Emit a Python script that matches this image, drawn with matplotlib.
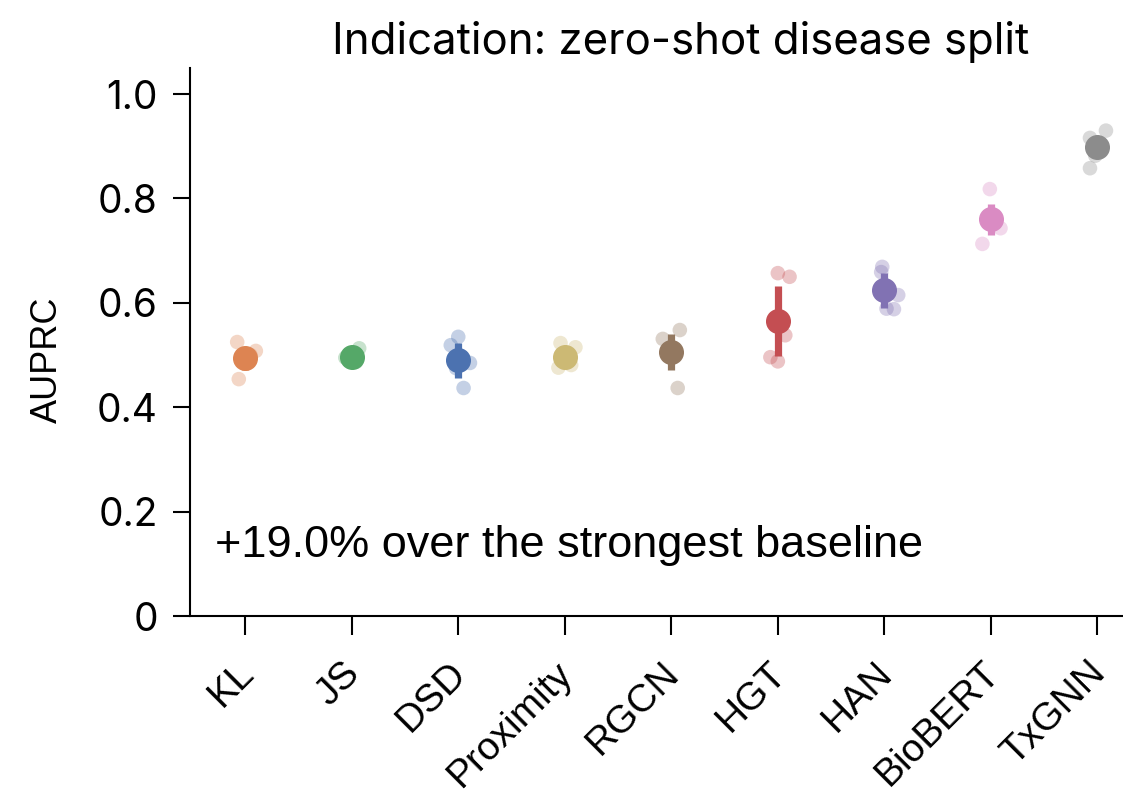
import matplotlib
matplotlib.use("Agg")
import matplotlib.pyplot as plt
import numpy as np

methods = ['KL', 'JS', 'DSD', 'Proximity', 'RGCN', 'HGT', 'HAN', 'BioBERT', 'TxGNN']
colors = ['#dd8452', '#55a868', '#4c72b0', '#ccb974', '#937860',
          '#c44e52', '#8172b3', '#da8bc3', '#8c8c8c']

# AUPRC over five seeds per method
seed_scores = {
    'KL':        [0.525, 0.508, 0.454, 0.490, 0.500],
    'JS':        [0.513, 0.498, 0.492, 0.495, 0.487],
    'DSD':       [0.535, 0.519, 0.485, 0.437, 0.475],
    'Proximity': [0.523, 0.515, 0.481, 0.485, 0.476],
    'RGCN':      [0.548, 0.531, 0.437, 0.510, 0.505],
    'HGT':       [0.657, 0.650, 0.538, 0.496, 0.488],
    'HAN':       [0.669, 0.659, 0.615, 0.588, 0.589],
    'BioBERT':   [0.818, 0.713, 0.743, 0.770, 0.756],
    'TxGNN':     [0.916, 0.930, 0.858, 0.902, 0.882],
}
# horizontal spread of the seed points around each category
seed_jitter = {
    'KL':        [-0.075, 0.10, -0.06, 0.00, 0.05],
    'JS':        [0.07, -0.03, 0.01, -0.06, 0.04],
    'DSD':       [0.00, -0.07, 0.11, 0.05, -0.02],
    'Proximity': [-0.04, 0.10, 0.06, 0.00, -0.06],
    'RGCN':      [0.08, -0.08, 0.06, 0.00, 0.03],
    'HGT':       [0.00, 0.11, 0.07, -0.07, 0.00],
    'HAN':       [-0.02, -0.03, 0.13, 0.09, 0.02],
    'BioBERT':   [-0.01, -0.08, 0.09, 0.00, 0.03],
    'TxGNN':     [-0.07, 0.08, -0.07, 0.02, -0.02],
}
means = [0.494, 0.496, 0.490, 0.496, 0.506, 0.566, 0.624, 0.760, 0.899]
errs = [0.022, 0.008, 0.033, 0.010, 0.035, 0.067, 0.033, 0.030, 0.015]
yticks = [0, 0.2, 0.4, 0.6, 0.8, 1.0]
ytick_labels = ['0', '0.2', '0.4', '0.6', '0.8', '1.0']

fig = plt.figure(figsize=(11.23, 7.95), dpi=100)
ax = fig.add_axes([0.169, 0.225, 0.831, 0.6895])

x = np.arange(len(methods))
for i, m in enumerate(methods):
    ax.scatter(i + np.array(seed_jitter[m]), seed_scores[m], s=110,
               color=colors[i], alpha=0.33, edgecolors='none', zorder=2)
    ax.errorbar(i, means[i], yerr=errs[i], fmt='o', color=colors[i],
                ms=17, elinewidth=5.2, capsize=0, zorder=3)

ax.set_xlim(-0.52, 8.24)
ax.set_ylim(0, 1.05)
ax.set_yticks(yticks)
ax.set_yticklabels(ytick_labels, fontfamily='Inter', fontsize=28)
ax.set_xticks(x)
# label tips sit just right of each tick
ax.set_xticklabels(methods, rotation=45, ha='right', va='center_baseline',
                   rotation_mode='anchor', fontfamily='Liberation Sans',
                   fontsize=28)

ax.set_ylabel('AUPRC', fontfamily='Liberation Sans', fontsize=26)
ax.yaxis.set_label_coords(-0.134, 0.467)

ax.spines['top'].set_visible(False)
ax.spines['right'].set_visible(False)
for s in ['left', 'bottom']:
    ax.spines[s].set_linewidth(1.5)
ax.tick_params(axis='x', length=14, width=1.5, pad=21)
ax.tick_params(axis='y', length=12, width=1.5, pad=11)

ax.text(-0.28, 0.136, '+19.0% over the strongest baseline', fontsize=32.5,
        fontfamily='Liberation Sans', va='center', ha='left')
fig.text(0.606, 0.947, 'Indication: zero-shot disease split', fontsize=31.5,
         fontfamily='Inter', ha='center', va='center')

fig.savefig('out.png', dpi=100)
